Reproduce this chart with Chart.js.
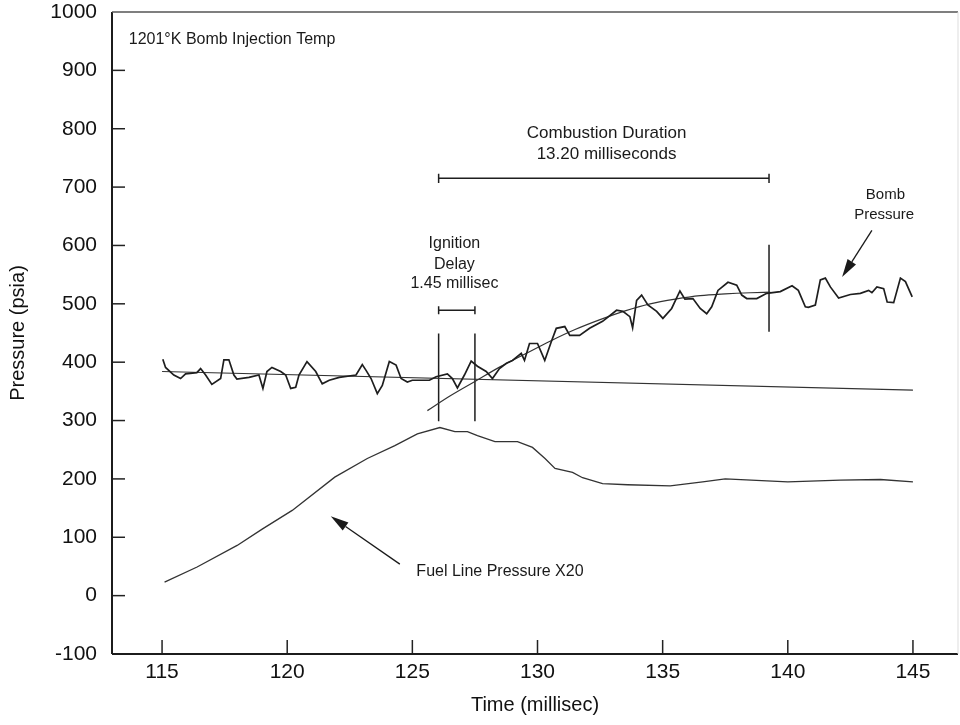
<!DOCTYPE html>
<html>
<head>
<meta charset="utf-8">
<script src="https://cdn.jsdelivr.net/npm/chart.js@4.4.1/dist/chart.umd.min.js"></script>
<style>
  html, body { margin: 0; padding: 0; background: #fff; }
  #wrap { width: 960px; height: 725px; position: relative; }
</style>
</head>
<body>
<div id="wrap"><canvas id="chart"></canvas></div>
<script>
// tick labels
const xTicks = [115, 120, 125, 130, 135, 140, 145];
const yTicks = [-100, 0, 100, 200, 300, 400, 500, 600, 700, 800, 900, 1000];

// bomb pressure trace (psia vs millisec)
const bombTime = [115.03, 115.14, 115.47, 115.74, 115.94, 116.39, 116.54, 116.74, 116.99, 117.34,
  117.47, 117.67, 117.87, 117.99, 118.47, 118.87, 119.03, 119.19, 119.39, 119.74,
  119.94, 120.14, 120.34, 120.47, 120.79, 121.14, 121.40, 121.68, 122.08, 122.75,
  123.00, 123.15, 123.35, 123.60, 123.80, 124.08, 124.35, 124.55, 124.80, 125.00,
  125.68, 125.95, 126.40, 126.60, 126.80, 127.08, 127.35, 127.60, 127.95, 128.20,
  128.48, 128.76, 129.00, 129.35, 129.48, 129.68, 130.00, 130.29, 130.55, 130.75,
  131.09, 131.29, 131.68, 132.08, 132.60, 133.16, 133.41, 133.69, 133.80, 133.96,
  134.16, 134.41, 134.76, 135.01, 135.36, 135.69, 135.89, 136.21, 136.50, 136.76,
  136.96, 137.21, 137.61, 137.96, 138.16, 138.36, 138.76, 139.16, 139.70, 140.17,
  140.42, 140.70, 140.82, 141.10, 141.30, 141.50, 141.70, 142.03, 142.50, 142.90,
  143.23, 143.36, 143.56, 143.83, 143.97, 144.23, 144.50, 144.70, 144.97];
const bombPressure = [405, 391, 378, 372, 380, 382, 389, 378, 362, 372,
  404, 404, 378, 371, 374, 378, 355, 384, 391, 384,
  378, 355, 357, 378, 401, 384, 363, 369, 374, 378,
  396, 386, 372, 346, 360, 401, 395, 372, 366, 369,
  369, 375, 380, 372, 356, 378, 402, 393, 384, 372,
  389, 398, 403, 415, 403, 432, 432, 403, 435, 458,
  461, 446, 446, 458, 470, 489, 487, 478, 459, 506,
  515, 498, 487, 475, 492, 522, 508, 509, 492, 483,
  495, 523, 537, 532, 515, 509, 509, 518, 521, 531,
  523, 495, 494, 498, 541, 544, 529, 510, 516, 518,
  523, 519, 529, 526, 503, 502, 544, 538, 512];

// pre-ignition baseline fit
const baseTime = [115, 145];
const basePressure = [384, 352];

// combustion pressure-rise fit
const fitTime = [125.6, 126.5, 127.5, 128.5, 129.5, 130.5, 131.5, 132.5, 133.5, 134.5, 135.5, 136.5, 137.5, 138.5, 139.3];
const fitPressure = [317, 342, 367, 392, 414, 436, 456, 473, 488, 500, 508, 514, 517, 519, 520];

// fuel line pressure x20
const fuelTime = [115.1, 116.4, 118.0, 119.0, 120.2, 121.9, 123.2, 124.3, 125.2, 126.1,
  126.7, 127.2, 127.6, 128.3, 129.2, 129.8, 130.3, 130.7, 131.4, 131.8,
  132.6, 133.6, 135.3, 136.6, 137.5, 140.0, 142.1, 143.7, 145.0];
const fuelPressure = [23, 49, 86, 114, 146, 203, 235, 257, 277, 288,
  281, 281, 274, 264, 264, 254, 235, 218, 211, 202,
  192, 190, 188, 195, 200, 195, 198, 199, 195];

// event markers
const markerTime = [126.05, 127.5, 139.25];
const markerLow = [299, 299, 452];
const markerHigh = [449, 449, 601];
const durationSpan = [126.05, 139.25];
const durationLevel = 715;
const delaySpan = [126.05, 127.5];
const delayLevel = 489;

const pairs = (xs, ys) => xs.map((v, i) => ({ x: v, y: ys[i] }));

// vertical markers and the two span bars, split by null gaps
const markerPoints = [];
markerTime.forEach((t, i) => {
  markerPoints.push({ x: t, y: markerLow[i] }, { x: t, y: markerHigh[i] }, { x: t, y: null });
});
[[durationSpan, durationLevel, 8], [delaySpan, delayLevel, 7]].forEach(([span, lvl, cap]) => {
  markerPoints.push({ x: span[0], y: lvl }, { x: span[1], y: lvl }, { x: span[1], y: null });
  span.forEach(t => markerPoints.push({ x: t, y: lvl - cap }, { x: t, y: lvl + cap }, { x: t, y: null }));
});

const notes = [
  { text: '1201°K Bomb Injection Temp', t: 113.67, p: 952, size: 16, align: 'left' },
  { text: 'Combustion Duration', t: 132.76, p: 792, size: 17, align: 'center' },
  { text: '13.20 milliseconds', t: 132.76, p: 756, size: 17, align: 'center' },
  { text: 'Ignition', t: 126.68, p: 604, size: 16, align: 'center' },
  { text: 'Delay', t: 126.68, p: 568, size: 16, align: 'center' },
  { text: '1.45 millisec', t: 126.68, p: 534, size: 16, align: 'center' },
  { text: 'Bomb', t: 143.9, p: 686, size: 15, align: 'center' },
  { text: 'Pressure', t: 143.85, p: 652, size: 15, align: 'center' },
  { text: 'Fuel Line Pressure X20', t: 125.16, p: 41, size: 16, align: 'left' }
];
const arrows = [
  { from: [143.36, 626], to: [142.17, 546] },
  { from: [124.5, 54], to: [121.74, 136] }
];

const overlay = {
  id: 'overlay',
  afterDatasetsDraw(chart) {
    const { ctx, chartArea: a, scales: { x, y } } = chart;
    const seg = (x1, y1, x2, y2) => { ctx.beginPath(); ctx.moveTo(x1, y1); ctx.lineTo(x2, y2); ctx.stroke(); };
    ctx.save();
    ctx.strokeStyle = '#222';
    ctx.lineWidth = 1.5;
    xTicks.forEach(v => { const px = x.getPixelForValue(v); seg(px, a.bottom, px, a.bottom - 14); });
    yTicks.slice(1, -1).forEach(v => { const py = y.getPixelForValue(v); seg(a.left, py, a.left + 13, py); });

    // frame
    ctx.lineWidth = 2;
    ctx.strokeStyle = '#1c1c1c';
    seg(a.left, a.top, a.left, a.bottom);
    seg(a.left, a.bottom, a.right, a.bottom);
    ctx.lineWidth = 1.5;
    ctx.strokeStyle = '#555';
    seg(a.left, a.top, a.right, a.top);
    ctx.lineWidth = 1;
    ctx.strokeStyle = '#ddd';
    seg(a.right, a.top, a.right, a.bottom);

    // annotations
    ctx.fillStyle = '#1a1a1a';
    ctx.textBaseline = 'middle';
    notes.forEach(n => {
      ctx.font = n.size + 'px "Liberation Sans", Arial, sans-serif';
      ctx.textAlign = n.align;
      ctx.fillText(n.text, x.getPixelForValue(n.t), y.getPixelForValue(n.p));
    });

    ctx.strokeStyle = '#1a1a1a';
    ctx.lineWidth = 1.3;
    arrows.forEach(ar => {
      const x1 = x.getPixelForValue(ar.from[0]), y1 = y.getPixelForValue(ar.from[1]);
      const x2 = x.getPixelForValue(ar.to[0]), y2 = y.getPixelForValue(ar.to[1]);
      const ang = Math.atan2(y2 - y1, x2 - x1);
      const len = 18, half = 5;
      const bx = x2 - len * Math.cos(ang), by = y2 - len * Math.sin(ang);
      seg(x1, y1, bx, by);
      ctx.beginPath();
      ctx.moveTo(x2, y2);
      ctx.lineTo(bx + half * Math.sin(ang), by - half * Math.cos(ang));
      ctx.lineTo(bx - half * Math.sin(ang), by + half * Math.cos(ang));
      ctx.closePath();
      ctx.fill();
    });
    ctx.restore();
  }
};

Chart.defaults.font.family = '"Liberation Sans", Arial, sans-serif';
Chart.defaults.color = '#111';

const lineSet = (data, width, extra) => Object.assign({
  data: data,
  borderColor: '#1e1e1e',
  borderWidth: width,
  pointRadius: 0,
  fill: false,
  tension: 0
}, extra || {});

new Chart(document.getElementById('chart'), {
  type: 'line',
  data: {
    datasets: [
      lineSet(pairs(bombTime, bombPressure), 1.7, { label: 'Bomb Pressure' }),
      lineSet(pairs(baseTime, basePressure), 1.2, { label: 'Baseline', borderColor: '#333' }),
      lineSet(pairs(fitTime, fitPressure), 1.2, { label: 'Combustion fit', borderColor: '#333', cubicInterpolationMode: 'monotone' }),
      lineSet(pairs(fuelTime, fuelPressure), 1.3, { label: 'Fuel Line Pressure X20', borderColor: '#333' }),
      lineSet(markerPoints, 1.5, { label: 'Markers', spanGaps: false })
    ]
  },
  options: {
    responsive: true,
    maintainAspectRatio: false,
    animation: false,
    layout: { padding: { top: 12, right: 2, bottom: 0, left: 0 } },
    plugins: {
      legend: { display: false },
      tooltip: { enabled: false }
    },
    scales: {
      x: {
        type: 'linear',
        min: 113,
        max: 146.8,
        afterBuildTicks: scale => { scale.ticks = xTicks.map(v => ({ value: v })); },
        afterFit: scale => { scale.height = 71; scale.paddingLeft = 0; scale.paddingRight = 0; },
        grid: { display: false, drawTicks: false },
        border: { display: false },
        ticks: { padding: 6, font: { size: 21 }, color: '#111', maxRotation: 0, callback: v => String(v) },
        title: { display: true, text: 'Time (millisec)', font: { size: 20 }, color: '#111', padding: { top: 0, bottom: 8 } }
      },
      y: {
        type: 'linear',
        min: -100,
        max: 1000,
        afterBuildTicks: scale => { scale.ticks = yTicks.map(v => ({ value: v })); },
        afterFit: scale => { scale.width = 112; scale.paddingTop = 0; scale.paddingBottom = 0; },
        grid: { display: false, drawTicks: false },
        border: { display: false },
        ticks: { padding: 15, font: { size: 21 }, color: '#111', callback: v => String(v) },
        title: { display: true, text: 'Pressure (psia)', font: { size: 20 }, color: '#111', padding: { top: 6, bottom: 0 } }
      }
    }
  },
  plugins: [overlay]
});
</script>
</body>
</html>
